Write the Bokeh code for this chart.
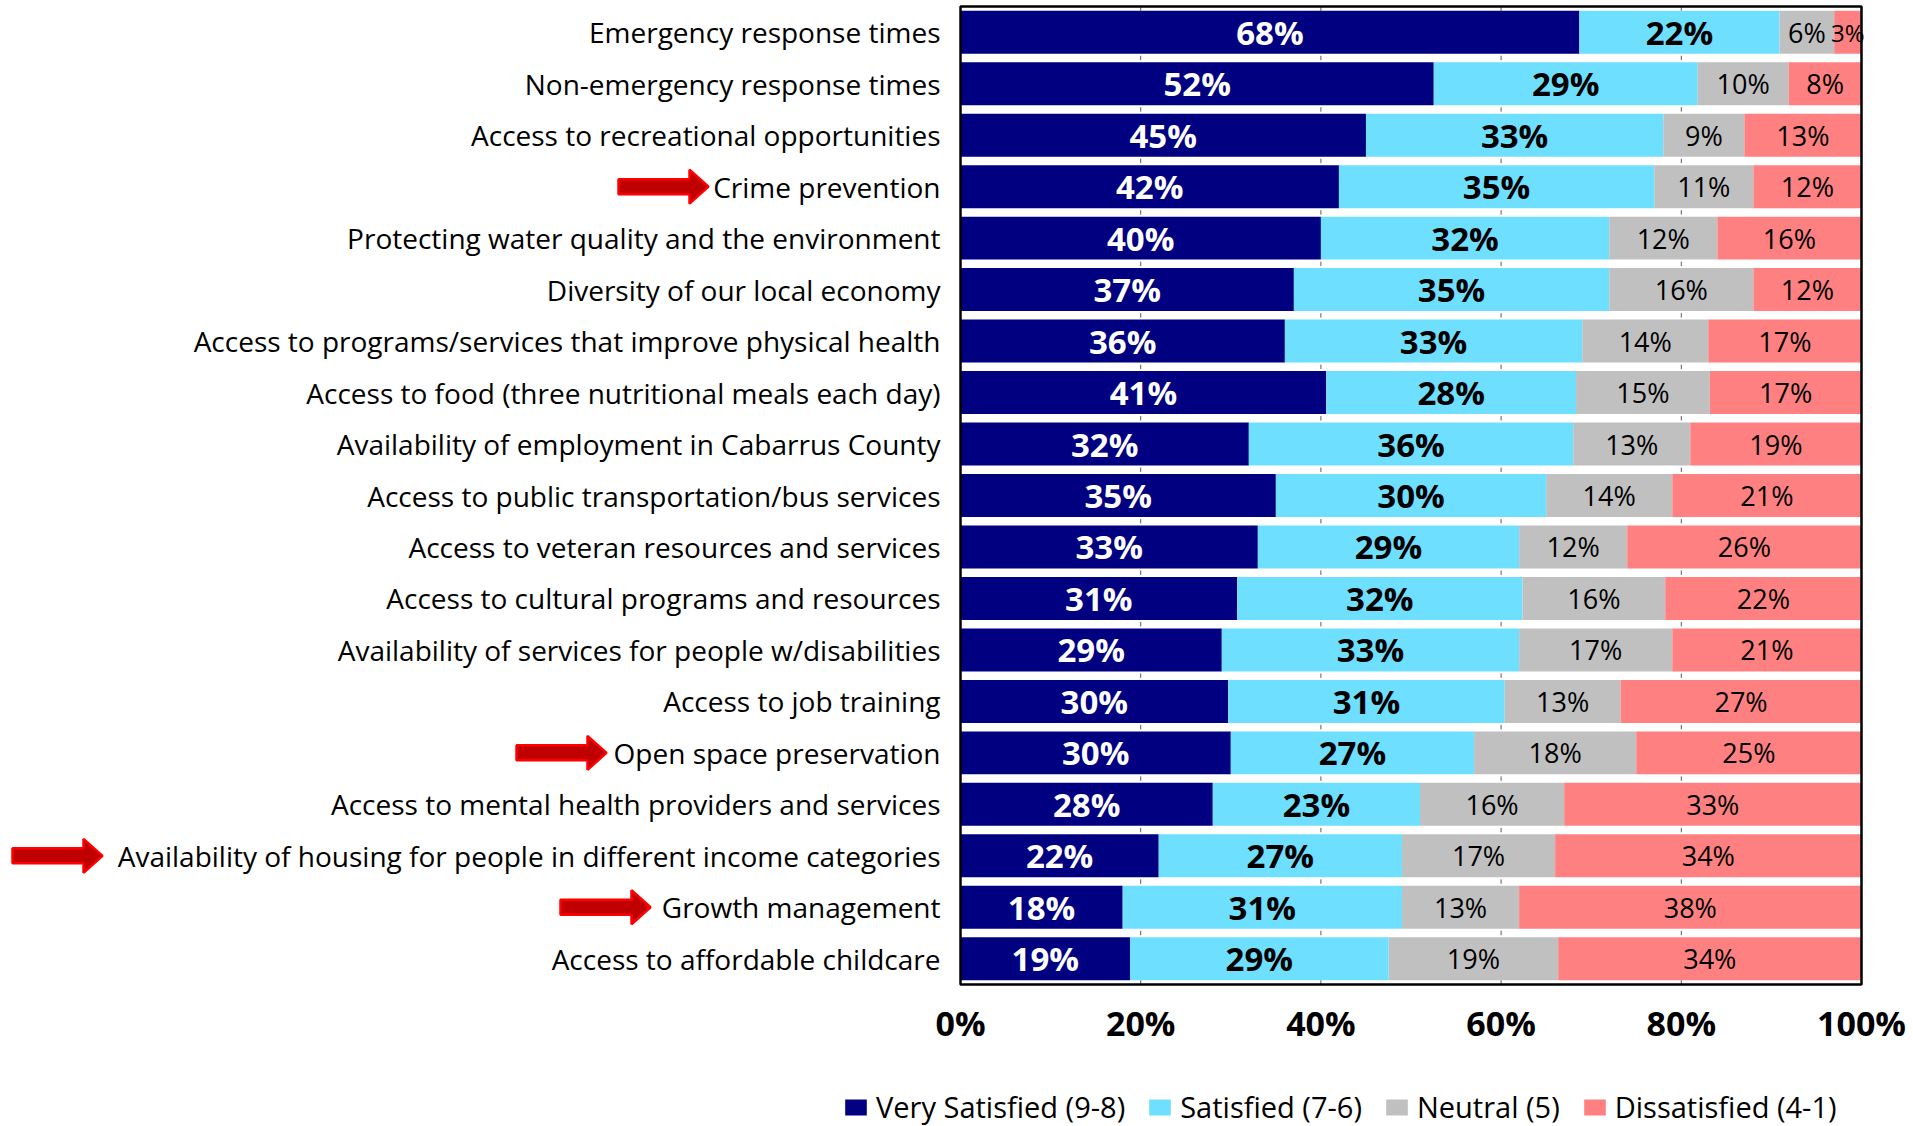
from bokeh.plotting import figure
from bokeh.models import Range1d, ColumnDataSource, Legend, LegendItem
from bokeh.core.properties import value, field
from bokeh.embed import file_html
from bokeh.resources import INLINE

# ---------------- data ----------------
categories = [
    "Emergency response times",
    "Non-emergency response times",
    "Access to recreational opportunities",
    "Crime prevention",
    "Protecting water quality and the environment",
    "Diversity of our local economy",
    "Access to programs/services that improve physical health",
    "Access to food (three nutritional meals each day)",
    "Availability of employment in Cabarrus County",
    "Access to public transportation/bus services",
    "Access to veteran resources and services",
    "Access to cultural programs and resources",
    "Availability of services for people w/disabilities",
    "Access to job training",
    "Open space preservation",
    "Access to mental health providers and services",
    "Availability of housing for people in different income categories",
    "Growth management",
    "Access to affordable childcare",
]
very_satisfied = [68, 52, 45, 42, 40, 37, 36, 41, 32, 35, 33, 31, 29, 30, 30, 28, 22, 18, 19]
satisfied      = [22, 29, 33, 35, 32, 35, 33, 28, 36, 30, 29, 32, 33, 31, 27, 23, 27, 31, 29]
neutral        = [6, 10, 9, 11, 12, 16, 14, 15, 13, 14, 12, 16, 17, 13, 18, 16, 17, 13, 19]
dissatisfied   = [3, 8, 13, 12, 16, 12, 17, 17, 19, 21, 26, 22, 21, 27, 25, 33, 34, 38, 34]
series_names = ["Very Satisfied (9-8)", "Satisfied (7-6)", "Neutral (5)", "Dissatisfied (4-1)"]
tick_values = [0, 20, 40, 60, 80, 100]
tick_labels = ["0%", "20%", "40%", "60%", "80%", "100%"]
highlighted = ["Crime prevention", "Open space preservation",
               "Availability of housing for people in different income categories",
               "Growth management"]

# ---------------- layout constants ----------------
W, H = 1913, 1126
FRAME_L, FRAME_R = 960, 1861          # canvas px of 0% and 100%
PX = FRAME_R - FRAME_L                # px per unit (1.0 = 100%)
FRAME_T, FRAME_B = 6, 984
N_ROWS = len(categories)
PITCH = (FRAME_B - FRAME_T) / N_ROWS  # px per row
TOP = -0.5 - FRAME_T / PITCH
BAR_H = 0.835
colors = ["#000080", "#6FDFFF", "#C0C0C0", "#FF8080"]
label_colors = ["white", "black", "black", "black"]
FONT = "Open Sans"

def ydat(px):
    return TOP + px / PITCH

p = figure(width=W, height=H, output_backend="svg", toolbar_location=None,
           x_range=Range1d(-FRAME_L / PX, (W - FRAME_L) / PX),
           y_range=Range1d(TOP + H / PITCH, TOP),
           min_border=0, min_border_left=0, min_border_right=0,
           min_border_top=0, min_border_bottom=0)
p.axis.visible = False
p.grid.visible = False
p.outline_line_color = None
p.background_fill_color = "white"
p.border_fill_color = "white"

n = N_ROWS
rows = list(range(n))

# short grid marks visible in the gaps between bars
gap_y = [-0.5 + (0.5 - BAR_H / 2) / 2] + [i + 0.5 for i in range(n - 1)] + [n - 1 + BAR_H / 2 + (0.5 - BAR_H / 2) / 2]
gx0, gy0, gy1 = [], [], []
for t in tick_values[1:-1]:
    for g in gap_y:
        gx0.append(t / 100)
        gy0.append(g - 2.2 / PITCH)
        gy1.append(g + 2.2 / PITCH)
p.segment(x0=gx0, x1=gx0, y0=gy0, y1=gy1, line_color="#595959", line_width=1)

# stacked, normalised bars
series = [very_satisfied, satisfied, neutral, dissatisfied]
totals = [sum(s[i] for s in series) for i in rows]
left = [0.0] * n
renderers = []
lab_x, lab_y, lab_t, lab_c, lab_s, lab_w = [], [], [], [], [], []
for k, s in enumerate(series):
    frac = [s[i] / totals[i] for i in rows]
    right = [left[i] + frac[i] for i in rows]
    src = ColumnDataSource(dict(y=rows, left=list(left), right=right))
    r = p.hbar(y="y", left="left", right="right", height=BAR_H, source=src,
               fill_color=colors[k], line_color=None)
    renderers.append(r)
    for i in rows:
        lab_x.append((left[i] + right[i]) / 2)
        lab_y.append(i)
        lab_t.append(f"{s[i]}%")
        lab_c.append(label_colors[k])
        if k < 2:
            lab_s.append("33px"); lab_w.append("bold")
        elif frac[i] < 0.05:
            lab_s.append("24px"); lab_w.append("normal")
        else:
            lab_s.append("27px"); lab_w.append("normal")
    left = right

# plot frame
p.rect(x=0.5, y=(n - 1) / 2, width=1.0, height=n, fill_color=None,
       line_color="black", line_width=2.5)

# segment labels
lsrc = ColumnDataSource(dict(x=lab_x, y=lab_y, t=lab_t, c=lab_c, s=lab_s, w=lab_w))
p.text(x="x", y="y", text="t", source=lsrc, text_color=field("c"),
       text_font_size=field("s"), text_font_style=field("w"),
       text_align="center", text_baseline="middle", text_font=value(FONT))

# category labels
p.text(x=[-20 / PX] * n, y=rows, text=categories, text_align="right",
       text_baseline="middle", text_font=value(FONT), text_font_size="28px",
       text_color="black")

# x tick labels
p.text(x=[t / 100 for t in tick_values], y=[ydat(1022)] * len(tick_values), text=tick_labels,
       text_align="center", text_baseline="middle", text_font=value(FONT),
       text_font_size="34px", text_font_style="bold", text_color="black")

# red arrows next to highlighted categories (tip x in canvas px)
arrow_tip_px = {"Crime prevention": 708, "Open space preservation": 606,
                "Availability of housing for people in different income categories": 102,
                "Growth management": 650}
axs, ays = [], []
for name in highlighted:
    i = categories.index(name)
    xt = (arrow_tip_px[name] - FRAME_L) / PX
    xh = xt - 19 / PX
    xs0 = xt - 90 / PX
    hs = 7.5 / PITCH
    hh = 17 / PITCH
    axs.append([xs0, xh, xh, xt, xh, xh, xs0])
    ays.append([i - hs, i - hs, i - hh, i, i + hh, i + hs, i + hs])
p.patches(xs=axs, ys=ays, fill_color="#C00000", line_color="#FF0000", line_width=2.5)

legend = Legend(items=[LegendItem(label=series_names[k], renderers=[renderers[k]]) for k in range(4)],
                orientation="horizontal", location=(842, 0),
                glyph_width=27, glyph_height=20, label_standoff=7, spacing=21,
                padding=0, margin=0, border_line_color=None, background_fill_alpha=0,
                label_text_font=FONT, label_text_font_size="29px", label_text_color="black")
p.add_layout(legend)

open("out.html", "w").write(file_html(p, INLINE))
